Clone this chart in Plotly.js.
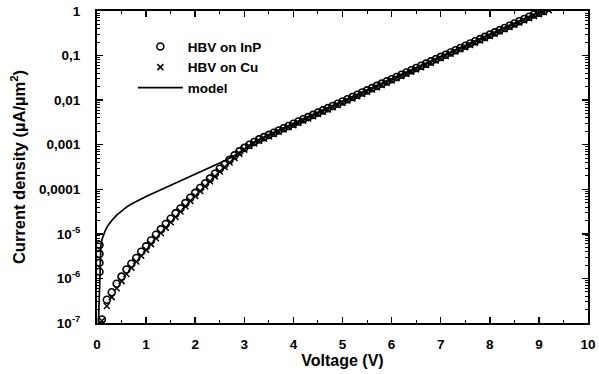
<!DOCTYPE html>
<html>
<head>
<meta charset="utf-8">
<script src="https://cdn.plot.ly/plotly-3.0.1.min.js"></script>
<style>
  html, body { margin: 0; padding: 0; background: #fff; }
  #chart { width: 599px; height: 374px; }
</style>
</head>
<body>
<div id="chart"></div>
<script>
// ---- Data (current densities stored as log10 of µA/µm²) ----
const voltsInP = [0.05, 0.05, 0.05, 0.05,
  0.1, 0.2, 0.3, 0.4, 0.5, 0.6, 0.7, 0.8, 0.9, 1.0,
  1.1, 1.2, 1.3, 1.4, 1.5, 1.6, 1.7, 1.8, 1.9, 2.0,
  2.1, 2.2, 2.3, 2.4, 2.5, 2.6, 2.7, 2.8, 2.9, 3.0,
  3.1, 3.2, 3.3, 3.4, 3.5, 3.6, 3.7, 3.8, 3.9, 4.0,
  4.1, 4.2, 4.3, 4.4, 4.5, 4.6, 4.7, 4.8, 4.9, 5.0,
  5.1, 5.2, 5.3, 5.4, 5.5, 5.6, 5.7, 5.8, 5.9, 6.0,
  6.1, 6.2, 6.3, 6.4, 6.5, 6.6, 6.7, 6.8, 6.9, 7.0,
  7.1, 7.2, 7.3, 7.4, 7.5, 7.6, 7.7, 7.8, 7.9, 8.0,
  8.1, 8.2, 8.3, 8.4, 8.5, 8.6, 8.7, 8.8, 8.9, 9.0, 9.1];
const logJInP = [-5.25, -5.45, -5.65, -5.85,
  -6.92, -6.48, -6.31, -6.12, -5.96, -5.80, -5.67, -5.54, -5.40, -5.28,
  -5.15, -5.02, -4.90, -4.78, -4.66, -4.54, -4.43, -4.31, -4.19, -4.08,
  -3.97, -3.87, -3.76, -3.65, -3.54, -3.44, -3.34, -3.24, -3.15, -3.07,
  -3.00, -2.94, -2.88, -2.83, -2.78, -2.73, -2.68, -2.63, -2.58, -2.53,
  -2.48, -2.43, -2.38, -2.33, -2.28, -2.23, -2.18, -2.13, -2.08, -2.03,
  -1.98, -1.93, -1.88, -1.83, -1.78, -1.73, -1.68, -1.63, -1.58, -1.53,
  -1.48, -1.43, -1.38, -1.33, -1.28, -1.23, -1.18, -1.13, -1.08, -1.03,
  -0.98, -0.93, -0.88, -0.83, -0.78, -0.73, -0.68, -0.63, -0.58, -0.53,
  -0.48, -0.43, -0.38, -0.33, -0.28, -0.23, -0.18, -0.13, -0.08, -0.04, 0.00];

const voltsCu = [0.1, 0.2, 0.3, 0.4, 0.5, 0.6, 0.7, 0.8, 0.9, 1.0,
  1.1, 1.2, 1.3, 1.4, 1.5, 1.6, 1.7, 1.8, 1.9, 2.0,
  2.1, 2.2, 2.3, 2.4, 2.5, 2.6, 2.7, 2.8, 2.9, 3.0,
  3.1, 3.2, 3.3, 3.4, 3.5, 3.6, 3.7, 3.8, 3.9, 4.0,
  4.1, 4.2, 4.3, 4.4, 4.5, 4.6, 4.7, 4.8, 4.9, 5.0,
  5.1, 5.2, 5.3, 5.4, 5.5, 5.6, 5.7, 5.8, 5.9, 6.0,
  6.1, 6.2, 6.3, 6.4, 6.5, 6.6, 6.7, 6.8, 6.9, 7.0,
  7.1, 7.2, 7.3, 7.4, 7.5, 7.6, 7.7, 7.8, 7.9, 8.0,
  8.1, 8.2, 8.3, 8.4, 8.5, 8.6, 8.7, 8.8, 8.9, 9.0, 9.1, 9.2];
const logJCu = [-6.95, -6.62, -6.42, -6.22, -6.06, -5.90, -5.76, -5.62, -5.49, -5.36,
  -5.23, -5.10, -4.98, -4.86, -4.74, -4.62, -4.50, -4.38, -4.26, -4.15,
  -4.04, -3.93, -3.82, -3.71, -3.60, -3.50, -3.40, -3.30, -3.20, -3.11,
  -3.03, -2.97, -2.91, -2.86, -2.81, -2.76, -2.71, -2.66, -2.61, -2.56,
  -2.51, -2.46, -2.41, -2.36, -2.31, -2.26, -2.21, -2.16, -2.11, -2.06,
  -2.01, -1.96, -1.91, -1.86, -1.81, -1.76, -1.71, -1.66, -1.61, -1.56,
  -1.51, -1.46, -1.41, -1.36, -1.31, -1.26, -1.21, -1.16, -1.11, -1.06,
  -1.01, -0.96, -0.91, -0.86, -0.81, -0.76, -0.71, -0.66, -0.61, -0.56,
  -0.51, -0.46, -0.41, -0.36, -0.31, -0.26, -0.21, -0.16, -0.11, -0.07, -0.03, 0.02];

const voltsModel = [0.03, 0.05, 0.06, 0.07, 0.08, 0.1, 0.13, 0.17, 0.22, 0.3, 0.4, 0.5, 0.6, 0.7, 0.8,
  1.0, 1.2, 1.4, 1.6, 1.8, 2.0, 2.2, 2.4, 2.6, 2.8, 3.0, 3.2, 3.5, 4.0, 5.0, 6.0, 7.0, 8.0, 9.0, 9.4];
const logJModel = [-7.0, -6.2, -5.6, -5.35, -5.24, -5.13, -5.03, -4.92, -4.82, -4.70, -4.58, -4.48, -4.40, -4.33, -4.27,
  -4.16, -4.06, -3.96, -3.86, -3.76, -3.66, -3.56, -3.46, -3.36, -3.24, -3.10, -2.94, -2.77, -2.52, -2.02, -1.52, -1.02, -0.52, -0.02, 0.18];

const xTickVals = [0, 1, 2, 3, 4, 5, 6, 7, 8, 9, 10];
const xTickText = ['0', '1', '2', '3', '4', '5', '6', '7', '8', '9', '10'];
const yTickVals = [1e-7, 1e-6, 1e-5, 1e-4, 1e-3, 1e-2, 1e-1, 1];
const yTickText = ['10<sup>-7</sup>', '10<sup>-6</sup>', '10<sup>-5</sup>', '0,0001', '0,001', '0,01', '0,1', '1'];

const names = ['HBV on InP', 'HBV on Cu', 'model'];

// ---- Build ----
const toJ = arr => arr.map(v => Math.pow(10, v));

const yMinor = [];
for (let e = -7; e < 0; e++) {
  for (let m = 2; m <= 9; m++) yMinor.push(m * Math.pow(10, e));
}

const traces = [
  {
    x: voltsInP, y: toJ(logJInP), name: names[0], type: 'scatter', mode: 'markers',
    marker: { symbol: 'circle-open', size: 7, color: '#000', line: { width: 1.6, color: '#000' } }
  },
  {
    x: voltsCu, y: toJ(logJCu), name: names[1], type: 'scatter', mode: 'markers',
    marker: { symbol: 'x-thin-open', size: 6, color: '#000', line: { width: 1.5, color: '#000' } }
  },
  {
    x: voltsModel, y: toJ(logJModel), name: names[2], type: 'scatter', mode: 'lines',
    line: { color: '#000', width: 1.7, shape: 'linear' }
  }
];

const layout = {
  width: 599, height: 374,
  margin: { l: 97, r: 11, t: 11, b: 51 },
  paper_bgcolor: '#fff', plot_bgcolor: '#fff',
  font: { family: 'Liberation Sans, Arial, sans-serif', size: 13, color: '#000', weight: 'bold' },
  showlegend: true,
  legend: {
    x: 0.073, y: 0.935, xanchor: 'left', yanchor: 'top',
    bgcolor: 'rgba(0,0,0,0)', borderwidth: 0,
    itemwidth: 45, tracegroupgap: 0,
    font: { size: 13.5, weight: 'bold' }
  },
  xaxis: {
    range: [0, 10], tickmode: 'array', tickvals: xTickVals, ticktext: xTickText,
    ticks: 'inside', ticklen: 6, tickwidth: 1.5, tickcolor: '#000',
    showline: true, linewidth: 2, linecolor: '#000', mirror: 'ticks',
    showgrid: false, zeroline: false,
    minor: { ticks: 'inside', ticklen: 3, tickwidth: 1, tickcolor: '#000', dtick: 0.5, tick0: 0, showgrid: false },
    ticklabelstandoff: 8,
    tickfont: { size: 13.5, weight: 'bold' },
    title: { text: 'Voltage (V)', font: { size: 16, weight: 'bold' }, standoff: 0 }
  },
  yaxis: {
    type: 'log', range: [-7, 0], tickmode: 'array', tickvals: yTickVals, ticktext: yTickText,
    ticks: 'inside', ticklen: 6, tickwidth: 1.5, tickcolor: '#000',
    showline: true, linewidth: 2, linecolor: '#000', mirror: 'ticks',
    showgrid: false, zeroline: false,
    minor: { ticks: 'inside', ticklen: 3, tickwidth: 1, tickcolor: '#000', tickmode: 'array', tickvals: yMinor, showgrid: false },
    ticklabelstandoff: 12,
    tickfont: { size: 13.5, weight: 'bold' },
    title: { text: 'Current density (µA/µm<sup>2</sup>)', font: { size: 16.5, weight: 'bold' }, standoff: 9 }
  }
};

Plotly.newPlot('chart', traces, layout, { displayModeBar: false, staticPlot: true });
</script>
</body>
</html>
